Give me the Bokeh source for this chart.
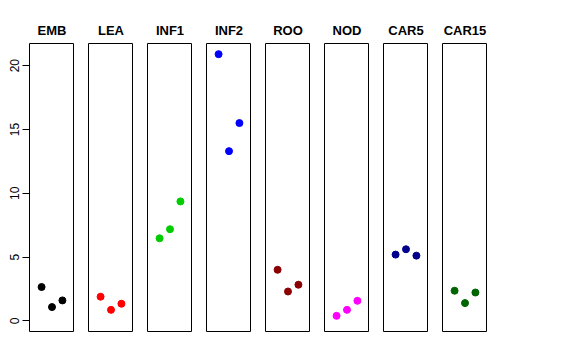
from bokeh.plotting import figure
from bokeh.layouts import row
from bokeh.models import FixedTicker, Range1d
from bokeh.embed import file_html
from bokeh.resources import INLINE

groups = ["EMB", "LEA", "INF1", "INF2", "ROO", "NOD", "CAR5", "CAR15"]
emb = [2.65, 1.08, 1.60]
lea = [1.89, 0.86, 1.34]
inf1 = [6.47, 7.18, 9.36]
inf2 = [20.9, 13.3, 15.5]
roo = [4.00, 2.30, 2.83]
nod = [0.39, 0.86, 1.57]
car5 = [5.19, 5.61, 5.11]
car15 = [2.36, 1.39, 2.22]
series = [emb, lea, inf1, inf2, roo, nod, car5, car15]
colors = ["#000000", "#FF0000", "#00CD00", "#0000FF", "#8B0000", "#FF00FF", "#00008B", "#006400"]
xpos = [1, 2, 3]
yticks = [0, 5, 10, 15, 20]

ymax = max(max(s) for s in series)
ypad = 0.04 * ymax
FONT = "Liberation Sans"

figs = []
for i, (name, vals, col) in enumerate(zip(groups, series, colors)):
    first = i == 0
    p = figure(frame_width=45, frame_height=288, output_backend="svg",
               toolbar_location=None, tools="",
               x_range=Range1d(-0.16, 4.16), y_range=Range1d(-ypad, ymax + ypad),
               min_border_left=29 if first else 14, min_border_right=0,
               min_border_top=43, min_border_bottom=4,
               y_axis_location="left" if first else None, x_axis_location=None,
               background_fill_color="white", border_fill_color="white")
    p.title.text = name
    p.title.text_font = FONT
    p.title.text_font_size = "13px"
    p.title.text_font_style = "bold"
    p.title.text_color = "black"
    p.title.align = "center"
    p.title.standoff = 12
    p.xgrid.visible = False
    p.ygrid.visible = False
    p.outline_line_color = "black"
    p.outline_line_width = 1
    p.outline_line_alpha = 1
    if first:
        ax = p.yaxis[0]
        ax.ticker = FixedTicker(ticks=yticks)
        ax.axis_line_color = None
        ax.major_tick_out = 7
        ax.major_tick_in = 0
        ax.minor_tick_line_color = None
        ax.major_label_orientation = "vertical"
        ax.major_label_text_font = FONT
        ax.major_label_text_font_size = "12px"
        ax.major_label_text_color = "black"
        ax.major_label_standoff = 3
        ax.major_tick_line_color = "black"
    p.scatter(xpos, vals, size=7, color=col, line_color=col)
    figs.append(p)

layout = row(*figs, spacing=0)
open("out.html", "w").write(file_html(layout, INLINE))
